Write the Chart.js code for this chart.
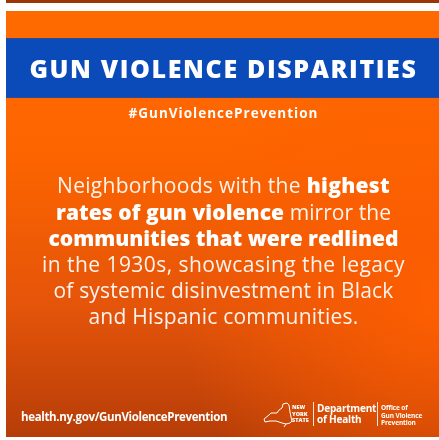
<!DOCTYPE html>
<html>
<head>
<meta charset="utf-8">
<script src="https://cdn.jsdelivr.net/npm/chart.js@4"></script>
<style>
  body { margin: 0; background: #fff; }
  #wrap { position: relative; width: 439px; height: 440px; overflow: hidden; }
  #bg { position: absolute; left: 0; top: 0; }
  .txt { position: absolute; color: #fff; white-space: nowrap; font-family: "Open Sans", sans-serif;
         font-variant-ligatures: none; }
  .center { left: 6px; width: 435px; text-align: center; }
  #title { top: 52px; font-weight: 800; font-size: 25px; line-height: 32px; }
  #hashtag { top: 104px; font-weight: 700; font-size: 13.5px; line-height: 18px; }
  .pline { font-size: 21px; line-height: 26px; font-weight: 400; color: rgba(255,255,255,0.93); }
  .pline b { font-weight: 800; color: #fff; }
  #url { left: 21px; top: 410px; font-weight: 700; font-size: 11.5px; line-height: 14px; }
  #nys { left: 292px; top: 404px; font-weight: 800; font-size: 5.5px; line-height: 6.5px; }
  #doh { left: 317px; top: 403px; font-weight: 700; font-size: 10px; line-height: 11px; letter-spacing: -0.2px; }
  #ogvp { left: 381px; top: 404px; font-weight: 700; font-size: 6.5px; line-height: 7.5px; letter-spacing: -0.1px; }
  .vline { position: absolute; width: 1px; background: rgba(255,255,255,0.85); }
</style>
</head>
<body>
<div id="wrap">
  <canvas id="bg" width="439" height="440"></canvas>
  <div class="txt center" id="title"><span></span></div>
  <div class="txt center" id="hashtag"><span></span></div>
  <div id="para"></div>
  <div class="txt" id="url"><span></span></div>
  <svg style="position:absolute;left:262px;top:402px" width="32" height="26" viewBox="0 0 32 26">
    <path d="M2 17 L7 13 L9 11 L15 11 L17 8 L20 6 L21 2 L25 1 L27 3 L28 10 L29 15 L30 19 L28 21 L24 22 L20 21 L14 19 L8 19 L3 20 Z M24 22 L22 25"
          fill="none" stroke="#fff" stroke-width="1"/>
  </svg>
  <div class="txt" id="nys">NEW<br>YORK<br>STATE</div>
  <div class="vline" style="left:313px;top:402px;height:24px"></div>
  <div class="txt" id="doh">Department<br>of Health</div>
  <div class="vline" style="left:377px;top:402px;height:24px"></div>
  <div class="txt" id="ogvp">Office of<br>Gun Violence<br>Prevention</div>
</div>
<script>
const titleText = "GUN VIOLENCE DISPARITIES";
const hashtagText = "#GunViolencePrevention";
// each line: [text, bold?] pieces
const paraLines = [
  [["Neighborhoods with the ", false], ["highest", true]],
  [["rates of gun violence", true], [" mirror the", false]],
  [["communities that were redlined", true]],
  [["in the 1930s, showcasing the legacy", false]],
  [["of systemic disinvestment in Black", false]],
  [["and Hispanic communities.", false]],
];
const urlText = "health.ny.gov/GunViolencePrevention";

// layout: baselines and widths of the text lines as measured on the picture
const lineBaselines = [193, 220, 246, 272, 298, 324];
const lineWidths = [333, 335, 350, 363, 340, 270];

function fit(el, target) {
  const span = el.querySelector("span");
  el.style.letterSpacing = "0px";
  const w = span.getBoundingClientRect().width;
  const n = span.textContent.length;
  el.style.letterSpacing = ((target - w) / n).toFixed(2) + "px";
}

document.querySelector("#title span").textContent = titleText;
document.querySelector("#hashtag span").textContent = hashtagText;
document.querySelector("#url span").textContent = urlText;

const para = document.getElementById("para");
paraLines.forEach((line, i) => {
  const d = document.createElement("div");
  d.className = "txt center pline";
  d.style.top = (lineBaselines[i] - 21.2).toFixed(1) + "px";
  d.innerHTML = "<span>" + line.map((p) => (p[1] ? "<b>" + p[0] + "</b>" : p[0])).join("") + "</span>";
  para.appendChild(d);
});

function layoutText() {
  fit(document.getElementById("title"), 388);
  fit(document.getElementById("hashtag"), 190);
  fit(document.getElementById("url"), 206);
  para.querySelectorAll(".pline").forEach((d, i) => fit(d, lineWidths[i]));
}
layoutText();
document.fonts.ready.then(layoutText);

// background panel painted by a chart plugin
const panelPlugin = {
  id: "panel",
  beforeDraw(chart) {
    const ctx = chart.ctx;
    ctx.save();
    ctx.fillStyle = "#fff";
    ctx.fillRect(0, 0, 439, 440);
    // thin dark strip on top
    ctx.fillStyle = "#9b3606";
    ctx.fillRect(6, 0, 433, 3);
    // orange body
    let g = ctx.createLinearGradient(0, 11, 0, 437);
    g.addColorStop(0, "#ff6a00");
    g.addColorStop(0.35, "#fc6400");
    g.addColorStop(0.7, "#e4540a");
    g.addColorStop(1, "#b63d08");
    ctx.fillStyle = g;
    ctx.fillRect(6, 11, 433, 426);
    let r = ctx.createRadialGradient(439, 300, 10, 439, 300, 260);
    r.addColorStop(0, "rgba(255,95,0,0.9)");
    r.addColorStop(1, "rgba(255,95,0,0)");
    ctx.fillStyle = r;
    ctx.fillRect(6, 98, 433, 339);
    // blue band
    ctx.fillStyle = "#0a4bb9";
    ctx.fillRect(6, 38, 433, 60);
    ctx.fillStyle = "#2a4a9a";
    ctx.fillRect(6, 38, 433, 1);
    ctx.fillRect(6, 97, 433, 1);
    ctx.restore();
  },
};

new Chart(document.getElementById("bg"), {
  type: "bar",
  data: { labels: [], datasets: [] },
  options: {
    responsive: false,
    animation: false,
    events: [],
    plugins: { legend: { display: false }, tooltip: { enabled: false } },
    scales: { x: { display: false }, y: { display: false } },
  },
  plugins: [panelPlugin],
});
</script>
</body>
</html>
